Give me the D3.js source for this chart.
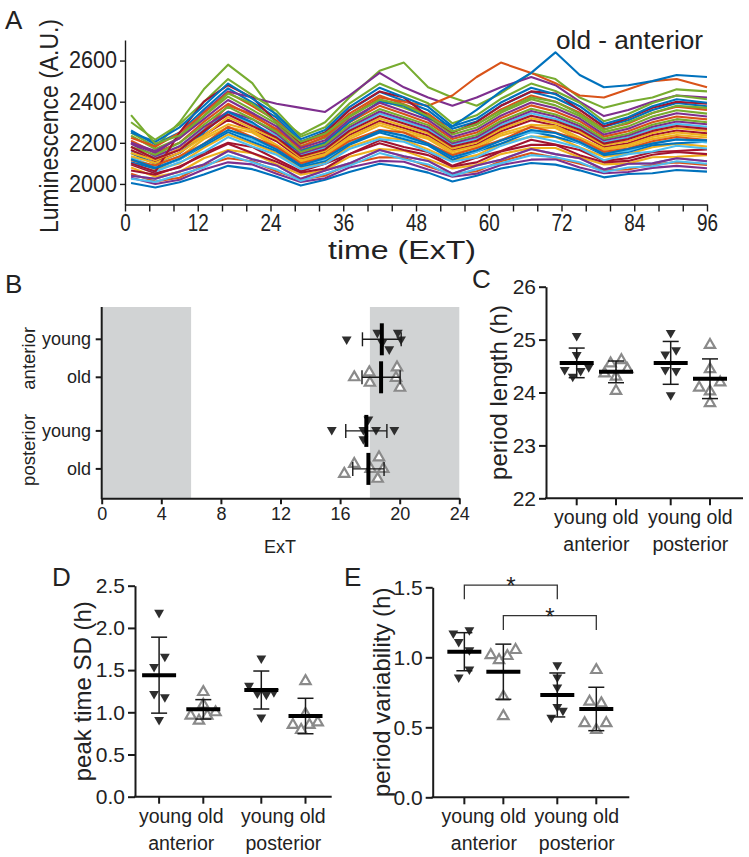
<!DOCTYPE html>
<html><head><meta charset="utf-8">
<script src="https://cdn.jsdelivr.net/npm/d3@7"></script>
<style>
body{margin:0;background:#fff;}
svg text{font-family:"Liberation Sans",Arial,sans-serif;fill:#222;}
</style></head><body>
<svg id="fig" width="749" height="857"></svg>
<script>
// ---------------- Panel A data ----------------
const timeA = [1,5,9,13,17,21,25,29,33,37,42,46,50,54,58,62,67,71,75,79,83,87,91,96];
const tracesA = [
[2005,1983,2008,2046,2088,2072,2035,1992,2020,2058,2098,2082,2055,2012,2040,2075,2102,2094,2066,2032,2048,2052,2068,2060],
[2210,2152,2200,2302,2390,2330,2268,2165,2202,2300,2380,2340,2298,2218,2250,2320,2382,2352,2305,2230,2256,2300,2328,2314],
[2120,2070,2100,2175,2240,2195,2150,2080,2105,2180,2228,2215,2168,2115,2140,2195,2230,2228,2178,2132,2146,2178,2196,2182],
[2030,2000,2020,2070,2105,2095,2050,2010,2028,2080,2112,2108,2070,2035,2050,2092,2118,2120,2080,2052,2058,2078,2088,2076],
[2250,2180,2300,2460,2580,2490,2330,2240,2300,2420,2550,2590,2470,2420,2380,2440,2540,2510,2420,2370,2400,2420,2460,2450],
[2160,2130,2185,2268,2350,2292,2236,2142,2176,2266,2342,2305,2266,2190,2220,2285,2344,2316,2272,2204,2226,2268,2292,2278],
[2095,2052,2080,2150,2200,2180,2120,2062,2098,2145,2212,2180,2155,2088,2128,2160,2215,2192,2165,2112,2125,2155,2160,2168],
[2260,2192,2250,2362,2465,2396,2322,2206,2250,2358,2448,2405,2358,2268,2304,2380,2448,2418,2362,2278,2310,2360,2394,2378],
[2050,2012,2030,2090,2125,2110,2062,2022,2040,2098,2130,2128,2085,2048,2062,2110,2150,2128,2098,2068,2070,2095,2105,2092],
[2150,2095,2132,2218,2276,2250,2180,2108,2138,2218,2285,2250,2218,2148,2175,2235,2275,2272,2215,2165,2182,2218,2238,2226],
[2200,2150,2230,2350,2450,2420,2390,2370,2350,2430,2540,2470,2420,2380,2420,2470,2520,2480,2400,2330,2360,2400,2430,2420],
[2235,2170,2222,2330,2425,2360,2292,2184,2224,2325,2410,2370,2325,2240,2274,2346,2412,2382,2330,2252,2280,2328,2358,2342],
[2040,2025,2060,2095,2160,2120,2090,2025,2065,2100,2165,2135,2112,2050,2090,2118,2170,2145,2125,2070,2098,2100,2125,2110],
[2165,2110,2150,2238,2312,2260,2208,2120,2152,2238,2306,2272,2236,2165,2192,2256,2310,2284,2245,2180,2198,2238,2260,2246],
[2105,2075,2120,2185,2252,2205,2160,2085,2112,2190,2250,2218,2188,2118,2158,2195,2255,2230,2198,2140,2155,2188,2198,2205],
[2180,2120,2170,2260,2380,2340,2260,2180,2230,2330,2420,2400,2380,2430,2520,2590,2540,2490,2430,2420,2460,2500,2510,2470],
[2080,2035,2058,2125,2165,2150,2095,2045,2066,2132,2170,2162,2120,2075,2092,2145,2175,2175,2130,2095,2100,2130,2132,2140],
[2195,2136,2182,2278,2352,2315,2245,2148,2184,2276,2352,2315,2276,2198,2228,2296,2355,2328,2282,2212,2236,2278,2304,2290],
[2300,2215,2290,2398,2510,2432,2355,2230,2276,2390,2488,2440,2392,2295,2334,2414,2488,2452,2395,2305,2340,2394,2430,2412],
[2130,2082,2118,2195,2262,2215,2170,2092,2120,2198,2262,2228,2196,2132,2156,2215,2252,2250,2196,2150,2162,2198,2218,2202],
[2065,2045,2085,2140,2195,2150,2108,2055,2075,2145,2198,2165,2140,2085,2105,2158,2190,2190,2140,2105,2112,2142,2155,2145],
[2150,2100,2150,2250,2350,2300,2220,2160,2200,2300,2400,2380,2320,2280,2360,2450,2540,2640,2530,2470,2480,2500,2530,2520],
[2225,2182,2248,2345,2445,2378,2308,2195,2238,2342,2430,2388,2342,2254,2288,2362,2430,2400,2346,2266,2294,2345,2376,2360],
[2135,2102,2152,2228,2290,2260,2190,2115,2146,2228,2296,2262,2226,2158,2185,2245,2288,2282,2226,2172,2190,2228,2250,2236],
[2040,2025,2060,2095,2160,2120,2090,2025,2065,2100,2165,2135,2112,2050,2090,2118,2170,2145,2125,2070,2098,2100,2125,2110],
[2180,2142,2200,2288,2375,2316,2254,2155,2192,2286,2364,2326,2286,2206,2238,2306,2366,2338,2292,2220,2244,2288,2315,2300],
[2100,2060,2105,2155,2228,2182,2142,2072,2098,2170,2218,2205,2158,2108,2130,2185,2232,2208,2176,2115,2145,2158,2186,2172],
[2100,2060,2250,2400,2480,2420,2300,2200,2250,2360,2450,2420,2330,2250,2300,2380,2450,2440,2360,2280,2320,2370,2400,2390],
[2250,2205,2275,2380,2488,2415,2338,2218,2262,2374,2468,2422,2375,2280,2318,2396,2468,2436,2378,2292,2324,2378,2412,2395],
[2115,2090,2135,2195,2278,2228,2180,2100,2130,2208,2262,2250,2198,2140,2175,2212,2278,2250,2215,2156,2172,2208,2228,2214],
[2150,2115,2170,2235,2325,2270,2218,2128,2160,2248,2318,2282,2246,2172,2202,2266,2320,2295,2254,2188,2208,2248,2272,2258],
[2200,2160,2222,2315,2408,2345,2280,2175,2212,2312,2395,2354,2312,2228,2262,2332,2396,2368,2318,2240,2268,2314,2344,2328],
[2335,2195,2235,2330,2440,2390,2300,2205,2245,2330,2410,2385,2330,2255,2290,2355,2420,2400,2340,2262,2300,2345,2380,2370],
[2025,2010,2045,2080,2140,2105,2070,2015,2050,2088,2150,2120,2095,2040,2072,2100,2140,2130,2105,2058,2080,2086,2110,2098],
[2180,2122,2165,2258,2338,2282,2226,2135,2168,2258,2330,2294,2256,2182,2210,2276,2332,2306,2264,2196,2218,2258,2282,2268],
[2120,2078,2122,2195,2262,2226,2168,2090,2126,2195,2258,2236,2194,2130,2164,2210,2262,2248,2204,2146,2170,2196,2216,2212]
];
const traceColors = ["#0072BD","#D95319","#EDB120","#7E2F8E","#77AC30","#4DBEEE","#A2142F"];
const yTicksA = [2000,2200,2400,2600];

// ---------------- Panel B data (peak time, ExT) ----------------
const groups = ["anterior","posterior"];
const ages = ["young","old"];
const peakYA = [16.44,18.5,19.87,20.09,19.3,18.83];
const peakOA = [16.95,17.96,18.0,19.82,19.75,20.02];
const peakYP = [15.44,17.56,18.41,19.64,17.9,17.56];
const peakOP = [16.28,16.95,18.61,18.9,18.52,18.05];
const peakMean = [18.8,18.75,17.76,17.9];
const peakSD = [1.3,1.28,1.38,1.05];
const jitYA_B = [0,-0.6,-0.6,0,0.9,0.3];
const jitOA_B = [0,-0.45,0.5,-0.9,0.05,0.95];
const jitYP_B = [-0.1,-0.1,-0.1,-0.1,-1.05,0.75];
const jitOP_B = [0.45,-0.45,-1.05,0,0.9,0];
const darkBands = [[0,6],[18,24]];

// ---------------- Panel C data (period length) ----------------
const perYA = [25.07,24.71,24.43,24.30,24.41,24.48];
const perOA = [24.55,24.61,24.44,24.36,24.30,24.03];
const perYP = [25.13,24.80,24.72,24.43,24.41,23.95];
const perOP = [24.90,24.44,24.09,24.02,24.19,23.80];
const perMean = [24.56,24.39,24.56,24.26];
const perSD = [0.28,0.205,0.405,0.375];
const jitC = [[0,0,-1,-0.33,0.33,1],[-0.45,0.45,0.95,-0.95,0,0],[0,0.45,-0.45,-0.45,0.45,0],[0,0,-0.9,0,0.85,0]];

// ---------------- Panel D data (peak time SD) ----------------
const sdYA = [2.18,1.66,1.54,1.22,1.18,0.91];
const sdOA = [1.24,1.09,0.96,0.90,0.96,1.00];
const sdYP = [1.64,1.315,1.225,1.21,1.24,0.94];
const sdOP = [1.37,0.98,0.85,0.79,0.85,0.88];
const sdMean = [1.44,1.035,1.264,0.956];
const sdSD = [0.45,0.115,0.225,0.21];
const jitD = [[0,0.48,-0.42,-0.42,0.48,0],[0,0,-1.05,-0.36,0.33,1.02],[0,-1.02,-0.33,0.42,1.05,0],[0,0,-1.05,-0.36,0.33,1.02]];

// ---------------- Panel E data (period variability) ----------------
const varYA = [1.171,1.195,1.111,1.052,0.914,0.857];
const varOA = [1.016,0.98,1.009,1.052,0.719,0.58];
const varYP = [0.945,0.857,0.786,0.647,0.619,0.569];
const varOP = [0.909,0.683,0.671,0.529,0.529,0.481];
const varMean = [1.04,0.897,0.731,0.631];
const varSD = [0.136,0.197,0.157,0.155];
const jitE = [[-0.92,0.42,-0.47,0.42,0.42,-0.47],[-1.05,-0.36,0.33,1.02,0,0],[0,0,0,0,0.47,-0.5],[0,-0.56,0.42,-0.97,0.83,0]];
const sigPairs = [[0,2,1.516,1.414],[1,3,1.297,1.195]];

const groupCatLabel = "young old";

// ================= drawing =================
const svg = d3.select("#fig");
const FONT = '"Liberation Sans",Arial,sans-serif';
const INK = "#1a1a1a";
const GREY = "#8a8a8a";

function styleAxis(g, fs, sw){
  g.attr("font-family", FONT).attr("font-size", fs);
  g.selectAll("path.domain").attr("stroke", INK).attr("stroke-width", sw);
  g.selectAll(".tick line").attr("stroke", INK).attr("stroke-width", sw);
  g.selectAll(".tick text").attr("fill", "#222").attr("font-family", FONT).attr("font-size", fs);
}
function label(x, y, txt, fs, opts={}){
  const t = svg.append("text").attr("x", x).attr("y", y).text(txt)
    .attr("font-size", fs).attr("font-family", FONT)
    .attr("text-anchor", opts.anchor || "middle").attr("fill", "#222");
  if (opts.rot) t.attr("transform", `rotate(-90,${x},${y})`);
  if (opts.len) t.attr("textLength", opts.len).attr("lengthAdjust","spacingAndGlyphs");
  return t;
}

// ---------- Panel A ----------
const xA = d3.scaleLinear().domain([0,96]).range([125,707]);
const yA = d3.scaleLinear().domain([1900,2700]).range([204.5,40]);
const lineA = d3.line().x((d,i)=>xA(timeA[i])).y(d=>yA(d));
svg.append("g").selectAll("path").data(tracesA).join("path")
  .attr("d", lineA).attr("fill","none")
  .attr("stroke", (d,i)=>traceColors[i % traceColors.length])
  .attr("stroke-width", 2.1).attr("stroke-linejoin","round");
const gxA = svg.append("g").attr("transform","translate(0,204.5)")
  .call(d3.axisBottom(xA).tickValues(d3.range(0,97,4)).tickFormat(d=> d%12===0 ? String(d) : "").tickSize(7).tickSizeOuter(0).tickPadding(3));
styleAxis(gxA, 23, 1.4);
gxA.selectAll(".tick text").filter(function(){return this.textContent.length>0;})
  .attr("textLength", function(){return this.textContent.length*10.5;}).attr("lengthAdjust","spacingAndGlyphs");
const gyA = svg.append("g").attr("transform","translate(125,0)")
  .call(d3.axisLeft(yA).tickValues(yTicksA).tickFormat(d3.format("d")).tickSize(5).tickSizeOuter(0).tickPadding(3));
styleAxis(gyA, 23, 1.4);
gyA.selectAll(".tick text").attr("textLength", 48).attr("lengthAdjust","spacingAndGlyphs");
label(5, 29, "A", 26, {anchor:"start"});
label(703, 49, "old - anterior", 25, {anchor:"end", len:147});
label(58, 126, "Luminescence (A.U.)", 25, {rot:true, len:214});
label(402, 259, "time (ExT)", 26, {len:148});

// ---------- Panel B ----------
const xB = d3.scaleLinear().domain([0,24]).range([101.7,459.3]);
const gB = d3.scalePoint().domain(groups).range([358.3,449.9]);
const aB = d3.scalePoint().domain(ages).range([-19,19]);
const rowsB = [["anterior","young"],["anterior","old"],["posterior","young"],["posterior","old"]];
const rowY = r => gB(r[0]) + aB(r[1]);
const topB = 307, botB = 498.3;
svg.append("g").selectAll("rect").data(darkBands).join("rect")
  .attr("x", d=>xB(d[0])).attr("width", d=>xB(d[1])-xB(d[0]))
  .attr("y", topB).attr("height", botB-topB).attr("fill","#d1d3d4");

const symDown = d3.symbol(d3.symbolTriangle, 42)();
const symUp = d3.symbol(d3.symbolTriangle, 46)();
function drawFilled(g, x, y){
  g.append("path").attr("d", symDown).attr("transform", `translate(${x},${y}) rotate(180)`).attr("fill","#2e2e2e");
}
function drawOpen(g, x, y){
  g.append("path").attr("d", symUp).attr("transform", `translate(${x},${y})`).attr("fill","#fff").attr("stroke",GREY).attr("stroke-width",2.2);
}
const peakSets = [peakYA, peakOA, peakYP, peakOP];
const jitB = [jitYA_B, jitOA_B, jitYP_B, jitOP_B];
const pB = svg.append("g");
peakSets.forEach((vals, k)=>{
  vals.forEach((v,i)=>{
    const x = xB(v), y = rowY(rowsB[k]) + jitB[k][i]*11;
    if (k%2===0) drawFilled(pB, x, y); else drawOpen(pB, x, y);
  });
});
rowsB.forEach((r,k)=>{
  const y = rowY(r);
  const m = peakMean[k], s = peakSD[k];
  pB.append("line").attr("x1", xB(m-s)).attr("x2", xB(m+s)).attr("y1", y).attr("y2", y).attr("stroke",INK).attr("stroke-width",1.4);
  [m-s, m+s].forEach(e=> pB.append("line").attr("x1", xB(e)).attr("x2", xB(e)).attr("y1", y-7).attr("y2", y+7).attr("stroke",INK).attr("stroke-width",1.4));
  pB.append("line").attr("x1", xB(m)).attr("x2", xB(m)).attr("y1", y-16).attr("y2", y+16).attr("stroke","#000").attr("stroke-width",4);
});
const gxB = svg.append("g").attr("transform",`translate(0,${botB})`)
  .call(d3.axisBottom(xB).tickValues(d3.range(0,25,4)).tickSize(6).tickSizeOuter(0).tickPadding(3));
styleAxis(gxB, 18, 2);
svg.append("line").attr("x1",xB(0)).attr("x2",xB(0)).attr("y1",topB).attr("y2",botB+1).attr("stroke",INK).attr("stroke-width",2);
rowsB.forEach(r=>{
  const y = rowY(r);
  svg.append("line").attr("x1",xB(0)-6).attr("x2",xB(0)).attr("y1",y).attr("y2",y).attr("stroke",INK).attr("stroke-width",2);
  label(91, y+6, r[1], 18, {anchor:"end"});
});
groups.forEach(gname=> label(35, gB(gname), gname, 18.5, {rot:true}));
label(280, 553, "ExT", 18);
label(5, 293, "B", 26, {anchor:"start"});

// ---------- generic dot panels ----------
function dotPanel(o){
  const y = d3.scaleLinear().domain(o.domain).range([o.bottom, o.top]);
  const gx = d3.scalePoint().domain(groups).range(o.groupRange);
  const ax = d3.scalePoint().domain(ages).range([-o.ageOff, o.ageOff]);
  const cats = [["anterior","young"],["anterior","old"],["posterior","young"],["posterior","old"]];
  const cx = c => gx(c[0]) + ax(c[1]);
  const g = svg.append("g");
  o.sets.forEach((vals,k)=>{
    vals.forEach((v,i)=>{
      const x = cx(cats[k]) + o.jit[k][i]*12, yy = y(v);
      if (k%2===0) drawFilled(g, x, yy); else drawOpen(g, x, yy);
    });
  });
  cats.forEach((c,k)=>{
    const x = cx(c), m = o.mean[k], s = o.sd[k];
    g.append("line").attr("x1",x).attr("x2",x).attr("y1",y(m-s)).attr("y2",y(m+s)).attr("stroke",INK).attr("stroke-width",1.5);
    [m-s,m+s].forEach(e=> g.append("line").attr("x1",x-8).attr("x2",x+8).attr("y1",y(e)).attr("y2",y(e)).attr("stroke",INK).attr("stroke-width",1.5));
    g.append("line").attr("x1",x-17).attr("x2",x+17).attr("y1",y(m)).attr("y2",y(m)).attr("stroke","#000").attr("stroke-width",4);
  });
  const gyy = svg.append("g").attr("transform",`translate(${o.left},0)`)
    .call(d3.axisLeft(y).tickValues(o.ticks).tickFormat(o.fmt).tickSize(7).tickSizeOuter(0).tickPadding(3));
  styleAxis(gyy, 21, 2);
  svg.append("line").attr("x1",o.left-1).attr("x2",o.right).attr("y1",o.bottom).attr("y2",o.bottom).attr("stroke",INK).attr("stroke-width",2);
  cats.forEach(c=>{
    const x = cx(c);
    svg.append("line").attr("x1",x).attr("x2",x).attr("y1",o.bottom).attr("y2",o.bottom+7).attr("stroke",INK).attr("stroke-width",2);
  });
  groups.forEach(gname=>{
    label(gx(gname), o.bottom+26, groupCatLabel, 19.5);
    label(gx(gname), o.bottom+53, gname, 19.5);
  });
  label(o.ylabX, (o.top+o.bottom)/2, o.ylab, 24, {rot:true});
  label(o.letterX, o.letterY, o.letter, 26, {anchor:"start"});
  return {y, cx, cats};
}

dotPanel({domain:[22,26], top:286.7, bottom:498.3, left:546, right:743,
  groupRange:[596.35,690.35], ageOff:19.65, sets:[perYA,perOA,perYP,perOP], jit:jitC,
  mean:perMean, sd:perSD, ticks:[22,23,24,25,26], fmt:d3.format("d"),
  ylab:"period length (h)", ylabX:507, letter:"C", letterX:472, letterY:288});

dotPanel({domain:[0,2.5], top:585.7, bottom:796.7, left:135, right:331.7,
  groupRange:[181.2,283.4], ageOff:22.1, sets:[sdYA,sdOA,sdYP,sdOP], jit:jitD,
  mean:sdMean, sd:sdSD, ticks:[0,0.5,1,1.5,2,2.5], fmt:d3.format(".1f"),
  ylab:"peak time SD (h)", ylabX:91, letter:"D", letterX:52, letterY:586});

const pE = dotPanel({domain:[0,1.5], top:587.3, bottom:797.3, left:432.7, right:629.3,
  groupRange:[483.85,576.8], ageOff:19.5, sets:[varYA,varOA,varYP,varOP], jit:jitE,
  mean:varMean, sd:varSD, ticks:[0,0.5,1,1.5], fmt:d3.format(".1f"),
  ylab:"period variability (h)", ylabX:390, letter:"E", letterX:344, letterY:586});

sigPairs.forEach(p=>{
  const x1 = pE.cx(pE.cats[p[0]]), x2 = pE.cx(pE.cats[p[1]]);
  const yb = pE.y(p[2]), ye = pE.y(p[3]);
  svg.append("path").attr("d",`M${x1},${ye}V${yb}H${x2}V${ye}`).attr("fill","none").attr("stroke","#333").attr("stroke-width",1.3);
  label((x1+x2)/2, yb+9, "*", 24);
});
</script>
</body></html>
